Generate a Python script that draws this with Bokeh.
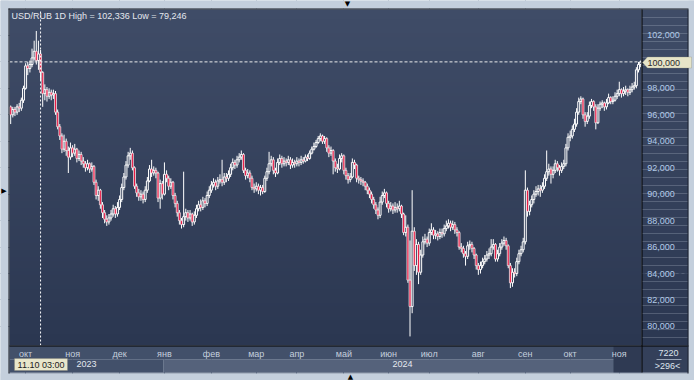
import numpy as np
from bokeh.plotting import figure
from bokeh.models import (Range1d, FixedTicker, LinearAxis, Grid, BoxAnnotation,
                          PolyAnnotation, Label, ColumnDataSource)
from bokeh.embed import file_html
from bokeh.resources import INLINE

# ---------------- data ----------------
title_text = "USD/RUB 1D High = 102,336 Low = 79,246"
first_open = 96.6

close = [
    96.0, 96.4, 96.2, 96.6, 96.5, 97.1, 98.0,                                                    # Sep 23
    99.7, 99.5, 99.8, 100.3, 100.8, 100.1, 100.6, 99.2, 97.6, 97.9, 97.4, 97.7, 97.5, 97.6,
    96.2, 95.1, 94.4, 93.4, 94.0, 93.3, 92.8, 93.5,                                              # Oct 23
    93.1, 93.4, 92.7, 93.0, 92.5, 92.3, 92.0, 92.3, 91.9, 92.1, 90.9, 89.9, 90.3, 89.2, 88.6,
    88.1, 87.9, 88.2, 88.5, 88.9, 88.5, 89.0,                                                    # Nov 23
    89.6, 90.5, 91.3, 92.2, 92.9, 93.1, 92.0, 90.6, 90.1, 89.8, 90.0, 89.6, 90.3, 91.0, 91.9,
    91.6, 91.8, 91.6, 89.7, 90.8, 90.0,                                                          # Dec 23
    91.5, 91.2, 90.6, 90.9, 89.9, 89.3, 88.6, 88.0, 87.7, 88.3, 88.6, 88.2, 88.5, 87.9, 88.4,
    88.9, 89.2, 89.0, 89.5, 89.3, 89.9, 90.3,                                                    # Jan 24
    90.7, 90.9, 90.6, 91.0, 91.1, 90.9, 91.3, 91.2, 91.5, 92.0, 92.4, 92.2, 92.6, 92.8, 93.0,
    91.8, 91.4, 91.6, 91.2, 90.5, 90.4,                                                          # Feb 24
    90.6, 90.3, 90.5, 90.2, 91.2, 91.7, 92.3, 92.6, 91.8, 91.6, 92.4, 92.7, 92.3, 92.5, 92.4,
    92.6, 92.2, 92.4, 92.3,                                                                      # Mar 24
    92.5, 92.4, 92.6, 92.5, 92.8, 92.7, 93.1, 93.4, 93.6, 93.9, 94.2, 94.4, 94.0, 94.2, 93.5,
    93.1, 93.3, 92.5, 92.0, 91.9, 92.7, 92.9,                                                    # Apr 24
    91.8, 91.4, 91.1, 91.3, 92.4, 92.2, 91.2, 91.1, 91.0, 90.9, 90.6, 90.3, 90.0, 89.6, 89.2,
    88.8, 88.4, 89.4, 89.9, 90.1, 89.3,                                                          # May 24
    88.9, 89.1, 88.8, 89.0, 88.9, 89.1, 88.5, 87.1, 87.5, 83.5, 81.5, 87.2, 84.6, 86.2, 84.1,
    85.4, 86.4, 86.6, 86.3,                                                                      # Jun 24
    87.1, 87.3, 86.9, 87.0, 86.8, 87.1, 87.0, 87.4, 87.6, 87.8, 87.5, 87.7, 87.3, 87.1, 86.0,
    85.9, 85.5, 85.3, 86.1, 86.2, 85.9, 85.4, 84.6,                                              # Jul 24
    84.3, 84.6, 84.9, 85.1, 85.4, 85.5, 86.0, 86.2, 85.1, 85.5, 86.0, 86.3, 86.5, 86.1, 84.6,
    83.3, 84.1, 84.0, 84.9, 85.5, 85.8, 86.4,                                                    # Aug 24
    90.3, 88.7, 89.2, 89.6, 90.0, 90.2, 90.4, 90.3, 90.6, 91.2, 91.7, 91.9, 91.5, 91.8, 92.3,
    92.0, 91.8, 92.1, 92.3, 93.5, 94.3,                                                          # Sep 24
    94.4, 94.9, 95.3, 96.2, 97.0, 97.2, 96.0, 95.5, 95.9, 96.7, 97.0, 96.6, 95.4, 96.5, 96.8,
    96.9, 96.6, 96.9, 97.3, 97.0, 97.1, 97.4, 97.6,                                              # Oct 24
    97.9, 97.6, 97.8, 97.9, 97.7, 97.9, 98.1, 98.2, 99.4, 99.8, 100.0,                           # Nov 24
]

high = [
    96.7, 96.6, 96.6, 96.8, 96.9, 97.3, 98.2,
    99.9, 100.0, 100.1, 101.0, 101.6, 102.336, 101.6, 100.9, 99.3, 98.3, 98.1, 98.0, 97.9, 97.9,
    97.8, 96.4, 95.3, 94.6, 94.5, 94.2, 93.6, 93.9,
    93.7, 93.8, 93.5, 93.3, 93.2, 92.8, 92.5, 92.6, 92.4, 92.4, 92.2, 91.1, 90.6, 90.4, 89.4,
    88.8, 88.4, 88.5, 88.8, 89.2, 89.1, 89.4,
    89.9, 90.8, 91.6, 92.5, 93.2, 93.5, 93.3, 92.1, 90.8, 90.4, 90.3, 90.2, 90.6, 91.3, 92.2,
    92.6, 92.1, 92.0, 91.7, 91.1, 91.0,
    92.4, 91.8, 91.4, 91.2, 91.0, 90.1, 89.5, 88.8, 88.2, 91.7, 88.9, 88.8, 88.8, 88.6, 88.7,
    89.2, 89.5, 89.6, 89.8, 89.7, 90.2, 90.6,
    91.0, 91.2, 91.1, 91.3, 91.5, 92.6, 91.6, 91.6, 91.8, 92.3, 92.7, 92.6, 92.9, 93.1, 93.3,
    93.1, 92.0, 91.9, 91.8, 91.4, 90.8,
    90.9, 90.8, 90.7, 90.7, 91.4, 92.0, 93.2, 92.9, 92.8, 92.0, 92.7, 93.0, 92.9, 92.8, 92.7,
    92.9, 92.8, 92.7, 92.6,
    92.8, 92.7, 92.9, 92.8, 93.0, 93.0, 93.3, 93.6, 93.9, 94.1, 94.4, 94.6, 94.5, 94.4, 94.3,
    93.7, 93.6, 93.4, 92.7, 92.3, 93.0, 93.1,
    93.0, 92.0, 91.6, 91.6, 92.7, 92.6, 92.3, 91.4, 91.3, 91.2, 91.0, 90.8, 90.5, 90.2, 89.8,
    89.4, 89.0, 89.8, 90.2, 90.4, 90.2,
    89.5, 89.4, 89.3, 89.4, 89.3, 89.5, 89.2, 88.6, 88.4, 87.7, 86.5, 90.3, 87.5, 86.6, 86.4,
    85.8, 86.8, 87.0, 86.8,
    87.4, 87.8, 87.5, 87.3, 87.2, 87.4, 87.4, 87.7, 88.0, 88.1, 88.0, 88.0, 87.9, 87.5, 87.2,
    86.3, 86.1, 85.7, 86.4, 86.5, 86.4, 86.0, 85.5,
    84.8, 84.9, 85.2, 85.4, 85.7, 85.9, 86.6, 86.6, 86.3, 85.8, 86.3, 86.6, 86.8, 86.7, 86.2,
    84.8, 84.4, 84.4, 85.2, 85.8, 86.1, 86.7,
    91.8, 90.5, 89.5, 89.9, 90.3, 90.6, 90.7, 90.7, 90.9, 91.5, 93.3, 92.3, 92.1, 92.1, 92.6,
    92.5, 92.2, 92.4, 92.6, 93.8, 94.6,
    94.8, 95.2, 95.7, 96.5, 97.3, 97.4, 97.3, 96.2, 96.2, 97.0, 97.2, 97.1, 96.8, 96.8, 97.0,
    97.1, 97.0, 97.2, 97.6, 97.4, 97.4, 97.7, 97.9,
    98.5, 98.0, 98.1, 98.2, 98.0, 98.2, 98.4, 98.5, 99.6, 100.0, 100.1,
]

low = [
    95.3, 95.8, 95.9, 96.0, 96.2, 96.3, 96.9,
    97.9, 99.0, 99.2, 99.6, 100.1, 99.8, 99.4, 98.6, 96.6, 97.1, 97.0, 97.2, 97.1, 97.2,
    96.0, 94.9, 94.1, 93.1, 93.2, 92.9, 91.6, 92.6,
    92.8, 92.9, 92.4, 92.5, 92.2, 92.0, 91.7, 91.8, 91.6, 91.7, 90.7, 89.6, 89.5, 88.9, 88.2,
    87.8, 87.6, 87.7, 88.0, 88.3, 88.2, 88.3,
    88.8, 89.4, 90.3, 91.1, 92.0, 92.6, 91.8, 90.4, 89.8, 89.5, 89.5, 89.3, 89.4, 90.1, 90.9,
    91.3, 91.4, 91.2, 89.4, 88.9, 89.6,
    89.9, 90.9, 90.3, 90.4, 89.6, 89.0, 88.3, 87.7, 87.4, 87.5, 88.0, 87.9, 88.0, 87.6, 87.7,
    88.2, 88.7, 88.7, 88.8, 89.0, 89.1, 89.7,
    90.1, 90.5, 90.3, 90.4, 90.8, 90.6, 90.7, 90.9, 91.0, 91.3, 91.8, 91.9, 92.0, 92.4, 92.6,
    91.6, 91.1, 91.2, 90.9, 90.3, 90.1,
    90.2, 90.0, 89.9, 90.0, 90.1, 91.0, 91.5, 92.1, 91.5, 91.3, 91.5, 92.2, 92.0, 92.1, 92.1,
    92.2, 91.9, 92.0, 92.0,
    92.1, 92.1, 92.2, 92.3, 92.4, 92.5, 92.6, 93.0, 93.3, 93.5, 93.8, 94.0, 93.8, 93.8, 93.2,
    92.8, 92.9, 91.5, 91.7, 91.6, 91.8, 92.4,
    91.5, 91.1, 90.8, 90.9, 91.2, 91.9, 90.9, 90.8, 90.7, 90.6, 90.3, 90.0, 89.7, 89.3, 88.9,
    88.5, 88.1, 88.2, 89.2, 89.7, 89.0,
    88.6, 88.7, 88.5, 88.6, 88.6, 88.7, 88.2, 86.9, 86.8, 83.3, 79.246, 81.0, 84.2, 83.9, 83.2,
    83.9, 85.2, 86.2, 86.0,
    86.1, 86.9, 86.6, 86.6, 86.5, 86.6, 86.7, 86.8, 87.2, 87.4, 87.2, 87.3, 87.0, 86.8, 85.8,
    85.6, 85.2, 84.6, 85.1, 85.8, 85.6, 85.1, 84.3,
    83.9, 84.0, 84.4, 84.7, 84.9, 85.1, 85.3, 85.8, 84.9, 84.9, 85.3, 85.8, 86.1, 85.8, 84.4,
    82.9, 83.0, 83.7, 83.8, 84.7, 85.3, 85.6,
    86.2, 88.3, 88.4, 89.0, 89.3, 89.8, 89.9, 89.8, 90.1, 90.4, 91.0, 91.4, 90.8, 91.2, 91.6,
    91.7, 91.4, 91.6, 91.9, 92.1, 93.3,
    94.0, 94.2, 94.7, 95.1, 96.0, 96.8, 95.7, 95.1, 95.3, 95.7, 96.5, 96.3, 94.9, 95.3, 96.3,
    96.5, 96.3, 96.4, 96.8, 96.8, 96.8, 97.0, 97.2,
    97.4, 97.3, 97.4, 97.5, 97.4, 97.5, 97.7, 97.9, 98.0, 99.2, 99.6,
]

month_labels = ["окт", "ноя", "дек", "янв", "фев", "мар", "апр", "май",
                "июн", "июл", "авг", "сен", "окт", "ноя"]
bars_per_month = [7, 22, 22, 21, 22, 21, 19, 22, 21, 19, 23, 22, 21, 23, 11]  # Sep 23 ... Nov 24
year_labels = ["2023", "2024"]
y_ticks = [80, 82, 84, 86, 88, 90, 92, 94, 96, 98, 100, 102]
y_tick_labels = ["80,000", "82,000", "84,000", "86,000", "88,000", "90,000",
                 "92,000", "94,000", "96,000", "98,000", "100,000", "102,000"]
crosshair_bar = 14
crosshair_text = "11.10 03:00"
last_price_text = "100,000"
corner_top_text = "7220"
corner_bottom_text = ">296<"

assert len(close) == len(high) == len(low) == sum(bars_per_month)

# ---------------- derived ----------------
N = len(close)
month_start = [int(v) for v in np.cumsum(bars_per_month)[:-1]]
start_2024 = month_start[month_labels.index("янв")]
year_centers = [(-0.5 + start_2024 - 0.5) / 2, (start_2024 - 0.5 + N - 0.5) / 2]

opens = [first_open] + close[:-1]
xs = list(range(N))
body_top = [max(o, c) for o, c in zip(opens, close)]
body_bot = [min(o, c) for o, c in zip(opens, close)]
rising = [c >= o for o, c in zip(opens, close)]

FONT = "Liberation Sans"
W, H = 694, 380
# pixel box of the price area and the data extents shown in it
L, R, T, B = 9, 641, 9, 345
x0, x1 = -0.55, N - 0.6
y0, y1 = 78.56, 103.96
kx = (R - L) / (x1 - x0)
ky = (B - T) / (y1 - y0)


def dx(cx):
    return x0 + (cx - L) / kx


def dy(cy):
    return y1 - (cy - T) / ky


p = figure(width=W, height=H, x_range=Range1d(dx(0), dx(W)), y_range=Range1d(dy(H), dy(0)),
           title=None, toolbar_location=None, output_backend="svg",
           x_axis_location=None, y_axis_location=None,
           min_border=0, min_border_left=0, min_border_right=0, min_border_top=0,
           min_border_bottom=0, border_fill_color="#c4cfdc", background_fill_color="#c4cfdc",
           outline_line_color=None)
for g in list(p.xgrid) + list(p.ygrid):
    g.visible = False

# gradient of the price area
top_rgb = np.array([63, 76, 103], dtype=float)
bot_rgb = np.array([43, 55, 81], dtype=float)
rows = 96
tt = np.linspace(0, 1, rows)[:, None]
rgb = np.round(bot_rgb + (top_rgb - bot_rgb) * tt).astype(np.uint8)
img = np.empty((rows, 1), dtype=np.uint32)
view = img.view(dtype=np.uint8).reshape((rows, 1, 4))
view[:, 0, 0:3] = rgb
view[:, 0, 3] = 255
p.image_rgba(image=[img], x=x0, y=y0, dw=x1 - x0, dh=y1 - y0)

# dashed grid
grid_kw = dict(grid_line_color="#5a6883", grid_line_dash="3 3", grid_line_width=1)
p.add_layout(Grid(dimension=0, ticker=FixedTicker(ticks=month_start), **grid_kw))
p.add_layout(Grid(dimension=1, ticker=FixedTicker(ticks=y_ticks), **grid_kw))


def pbox(l, r, t, b, color, alpha=1.0, level="glyph"):
    p.add_layout(BoxAnnotation(left=dx(l), right=dx(r), top=dy(t), bottom=dy(b),
                               fill_color=color, fill_alpha=alpha,
                               line_color=None, line_alpha=0, level=level))


def hexcol(c):
    return "#%02x%02x%02x" % tuple(int(round(v)) for v in c)


# right panel (same gradient as the price area)
step = 8
for yy in range(T, B, step):
    mid = yy + step / 2
    f = 1 - (mid - T) / (B - T)
    pbox(641, 688, yy, min(yy + step, B), hexcol(bot_rgb + (top_rgb - bot_rgb) * f))

# bottom panel rows
pbox(9, 641, 345, 359, "#42506a")
pbox(9, 163, 359, 372, "#42506a")
pbox(163, 641, 359, 372, "#55627b")
pbox(613, 641, 346, 372, "#2f3a53")
pbox(641, 688, 345, 372, "#34405a")
pbox(656, 681, 358.5, 359.5, "#9aa6b8")
pbox(8, 688, 372, 373, "#5d687e")

# outer light frame (covers grid ends)
frame_col = "#c4cfdc"
pbox(0, W, 0, 8, frame_col)
pbox(0, 8, 0, H, frame_col)
pbox(688, W, 0, H, frame_col)
pbox(0, W, 373, H, frame_col)

# dark border lines
pbox(8, 688, 8, 9, "#141821")
pbox(8, 9, 8, 373, "#141821")
pbox(641, 642, 9, 372, "black")
pbox(9, 688, 345, 346, "black")
pbox(687, 688, 9, 373, "#1d2331")

# candles
src = ColumnDataSource(dict(x=xs, h=high, l=low, bt=body_top, bb=body_bot))
p.segment(x0="x", y0="bt", x1="x", y1="h", source=src, line_color="white", line_width=1)
p.segment(x0="x", y0="bb", x1="x", y1="l", source=src, line_color="white", line_width=1)
up_src = ColumnDataSource(dict(x=[i for i in xs if rising[i]],
                               top=[body_top[i] for i in xs if rising[i]],
                               bottom=[body_bot[i] for i in xs if rising[i]]))
dn_src = ColumnDataSource(dict(x=[i for i in xs if not rising[i]],
                               top=[body_top[i] for i in xs if not rising[i]],
                               bottom=[body_bot[i] for i in xs if not rising[i]]))
p.vbar(x="x", top="top", bottom="bottom", width=0.9, source=up_src,
       fill_alpha=0, line_color="white", line_width=1)
p.vbar(x="x", top="top", bottom="bottom", width=0.9, source=dn_src,
       fill_color="#e8103c", line_color="white", line_width=0.7)

# crosshair and last-price line
p.segment(x0=[crosshair_bar], y0=[y0], x1=[crosshair_bar], y1=[y1],
          line_color="white", line_dash="2 2", line_width=1)
p.segment(x0=[x0], y0=[close[-1]], x1=[x1], y1=[close[-1]],
          line_color="#ececec", line_dash="3 2", line_width=1)

# axes (drawn at fixed places inside the canvas)
axis_kw = dict(axis_line_color=None, major_tick_line_color=None, minor_tick_line_color=None,
               major_tick_out=0, major_tick_in=0, minor_tick_out=0, minor_tick_in=0,
               major_label_text_font=FONT, major_label_text_font_size="9px")

month_axis = LinearAxis(fixed_location=dy(345), bounds=(x0, x1),
                        ticker=FixedTicker(ticks=month_start),
                        major_label_overrides={m: lab for m, lab in zip(month_start, month_labels)},
                        major_label_standoff=3, major_label_text_color="#c4cfdd", **axis_kw)
p.add_layout(month_axis, "below")

year_axis = LinearAxis(fixed_location=dy(359), bounds=(x0, x1),
                       ticker=FixedTicker(ticks=year_centers),
                       major_label_overrides={c: lab for c, lab in zip(year_centers, year_labels)},
                       major_label_standoff=1, major_label_text_color="#e4e8ef", **axis_kw)
p.add_layout(year_axis, "below")

price_axis = LinearAxis(fixed_location=x1 + 0.3, bounds=(y0, y1),
                        ticker=FixedTicker(ticks=y_ticks),
                        major_label_overrides=dict(zip(y_ticks, y_tick_labels)),
                        major_label_standoff=5, major_label_text_color="#b3cbe8", **axis_kw)
p.add_layout(price_axis, "right")


def clabel(x, y, text, color, size="9px", align="left", font=FONT):
    p.add_layout(Label(x=x, y=y, x_units="canvas", y_units="canvas", text=text,
                       text_color=color, text_font=font, text_font_size=size,
                       text_align=align, text_baseline="middle", level="annotation"))


# frame markers
clabel(347, 3.5, "▼", "black", "7px", "center", "DejaVu Sans")
clabel(3.5, 190, "▶", "black", "7px", "center", "DejaVu Sans")
clabel(350, 376.5, "▲", "black", "7px", "center", "DejaVu Sans")

# last price tag
p.add_layout(PolyAnnotation(xs=[dx(642), dx(647), dx(691), dx(691), dx(647)],
                            ys=[dy(62), dy(56.5), dy(56.5), dy(67.5), dy(67.5)],
                            fill_color="#e6e4c8", fill_alpha=1, line_color="#8f8e78",
                            line_width=1, level="annotation"))
clabel(647, 62, last_price_text, "#2a2a2a")

# crosshair date tag
p.add_layout(BoxAnnotation(left=dx(14), right=dx(67), top=dy(358), bottom=dy(370),
                           fill_color="#e8e6cb", fill_alpha=1, line_color="#7d7c6a",
                           line_width=1, level="annotation"))
clabel(40.5, 364, crosshair_text, "#1c1c1c", align="center")

# corner box texts
clabel(668, 352, corner_top_text, "#dfe5ee", align="center")
clabel(667, 365.5, corner_bottom_text, "#dfe5ee", align="center")

# title
clabel(11, 15, title_text, "#e3e7ee")

open("out.html", "w").write(file_html(p, INLINE))
